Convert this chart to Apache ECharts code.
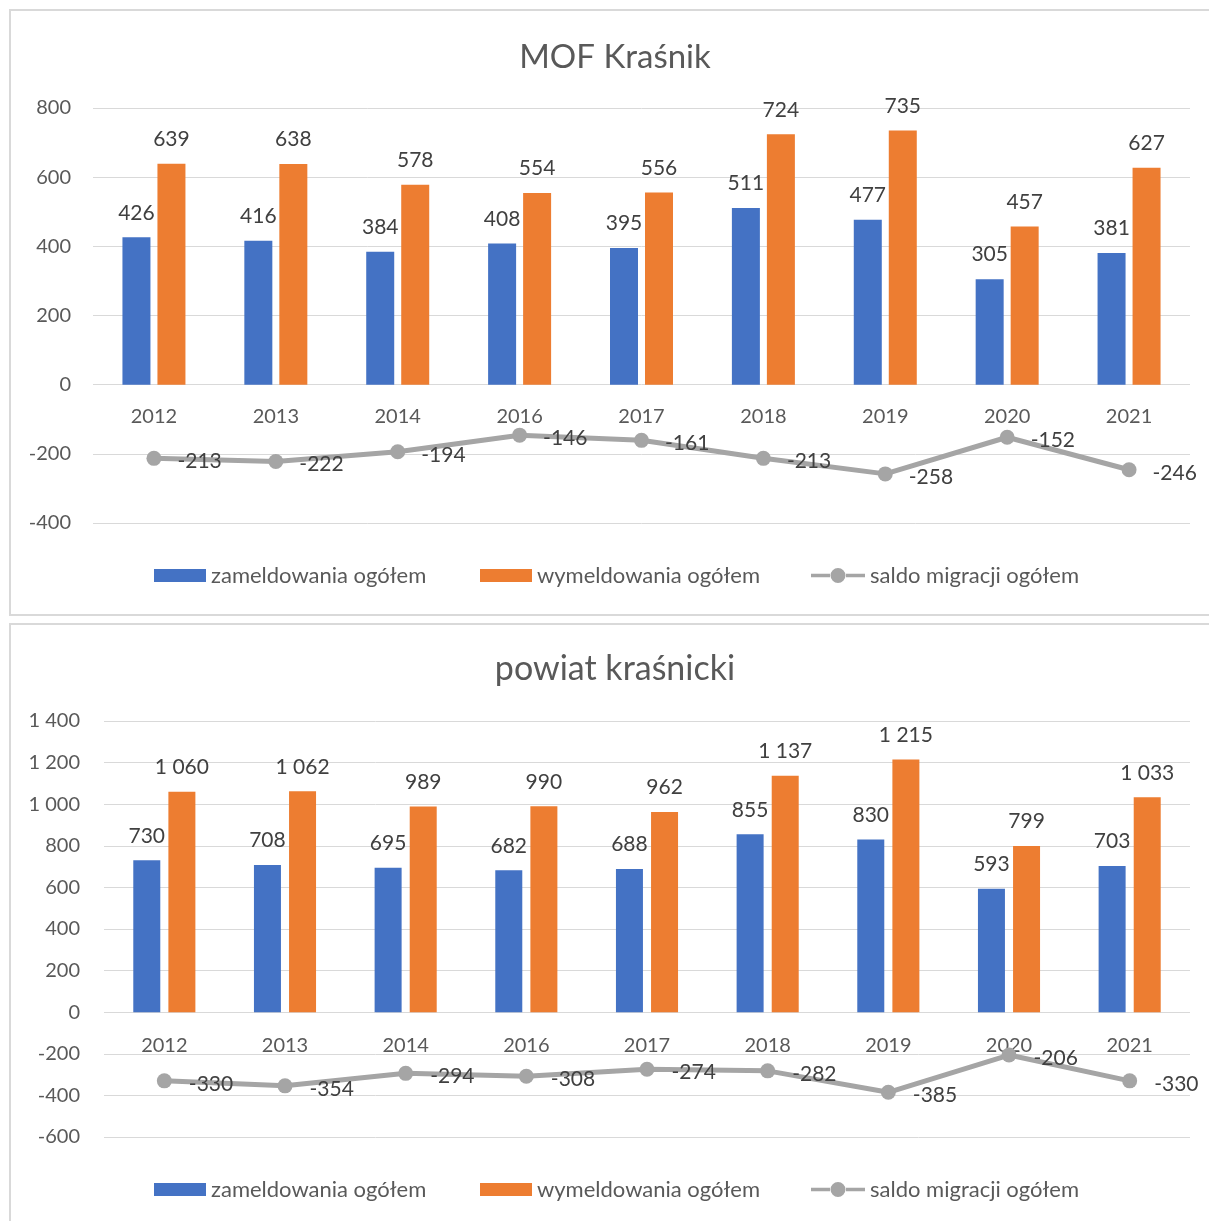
<!DOCTYPE html>
<html>
<head>
<meta charset="utf-8">
<script src="https://cdn.jsdelivr.net/npm/echarts@6/dist/echarts.min.js"></script>
<style>
html,body{margin:0;padding:0;background:#fff;}
#c{width:1209px;height:1221px;}
</style>
</head>
<body>
<div id="c"></div>
<script>
// ---- data ----
const years = ['2012','2013','2014','2016','2017','2018','2019','2020','2021'];
const seriesNames = ['zameldowania ogółem','wymeldowania ogółem','saldo migracji ogółem'];
const titles = ['MOF Kraśnik','powiat kraśnicki'];

const mofZameldowania = [426,416,384,408,395,511,477,305,381];
const mofWymeldowania = [639,638,578,554,556,724,735,457,627];
const mofSaldo = [-213,-222,-194,-146,-161,-213,-258,-152,-246];

const powZameldowania = [730,708,695,682,688,855,830,593,703];
const powWymeldowania = [1060,1062,989,990,962,1137,1215,799,1033];
const powSaldo = [-330,-354,-294,-308,-274,-282,-385,-206,-330];

const mofTicks = {min:-400, max:800, interval:200};
const powTicks = {min:-600, max:1400, interval:200};

// ---- styling ----
const FONT = 'Lato';
const BLUE = '#4472C4', ORANGE = '#ED7D31', GRAY = '#A5A5A5';
const AXIS_TXT = '#595959', LBL_TXT = '#404040', GRID = '#D9D9D9';
const fmt = v => String(v).replace(/\B(?=(\d{3})+(?!\d))/g, ' ');
const LINE_ICON = 'path://M0,6.3H19V9.7H0Z M35,6.3H54V9.7H35Z M19.5,8A7.5,7.5 0 1,1 34.5,8A7.5,7.5 0 1,1 19.5,8Z';

const chart = echarts.init(document.getElementById('c'), null, {renderer:'canvas'});

const layouts = [
  {grid:{left:93, right:19, top:108, height:415}, titleTop:36, titleSize:33, legendMid:575, barWidth:28, barGap:'25%', catMargin:22, yMargin:22, lblDist:16},
  {grid:{left:104, right:19, top:721, height:416}, titleTop:647, titleSize:34, legendMid:1189, barWidth:27, barGap:'30%', catMargin:23, yMargin:24, lblDist:17}
];
const legendLefts = [154, 480, 812];

const data = [
  [mofZameldowania, mofWymeldowania, mofSaldo, mofTicks],
  [powZameldowania, powWymeldowania, powSaldo, powTicks]
];

const option = {
  animation:false,
  textStyle:{fontFamily:FONT},
  title:[], legend:[], grid:[], xAxis:[], yAxis:[], series:[],
  graphic:[
    {type:'rect', shape:{x:10, y:10, width:1210, height:605}, style:{fill:'none', stroke:GRID, lineWidth:2}, silent:true},
    {type:'rect', shape:{x:10, y:624, width:1210, height:620}, style:{fill:'none', stroke:GRID, lineWidth:2}, silent:true}
  ]
};

layouts.forEach((L, i) => {
  const [zam, wym, sal, ticks] = data[i];
  option.title.push({
    text:titles[i], left:610, top:L.titleTop, textAlign:'center',
    textStyle:{fontFamily:FONT, fontSize:L.titleSize, fontWeight:'normal', color:AXIS_TXT}
  });
  seriesNames.forEach((n, k) => {
    const isLine = k === 2;
    const h = isLine ? 16 : 13;
    option.legend.push({
      data:[{name:n, icon: isLine ? LINE_ICON : 'rect'}],
      left:legendLefts[k] + (isLine ? -1 : 0), top:L.legendMid - 6.5 - 4, padding:0,
      itemWidth: isLine ? 54 : 52, itemHeight:h, itemGap:0,
      textStyle:{fontFamily:FONT, fontSize:22, color:AXIS_TXT}
    });
  });
  // main grid
  option.grid.push(L.grid);
  // auxiliary grid whose bottom edge sits on the value 0, to carry category labels
  const zeroFrac = ticks.max / (ticks.max - ticks.min);
  option.grid.push({left:L.grid.left, right:L.grid.right, top:L.grid.top, height:L.grid.height * zeroFrac});
  const gMain = i * 2, gAux = i * 2 + 1;

  option.xAxis.push({
    type:'category', data:years, gridIndex:gMain,
    axisLine:{show:false}, axisTick:{show:false}, axisLabel:{show:false}
  });
  option.xAxis.push({
    type:'category', data:years, gridIndex:gAux, position:'bottom',
    axisLine:{show:false}, axisTick:{show:false}, splitLine:{show:false},
    axisLabel:{fontFamily:FONT, fontSize:20, color:AXIS_TXT, margin:L.catMargin}
  });
  option.yAxis.push({
    type:'value', gridIndex:gMain, min:ticks.min, max:ticks.max, interval:ticks.interval,
    axisLine:{show:false}, axisTick:{show:false},
    splitLine:{lineStyle:{color:GRID, width:1}},
    axisLabel:{fontFamily:FONT, fontSize:20, color:AXIS_TXT, margin:L.yMargin, formatter:fmt}
  });
  option.yAxis.push({
    type:'value', gridIndex:gAux, min:0, max:ticks.max, show:false
  });
  const xi = i * 2, yi = i * 2;
  const barLabel = {show:true, position:'top', distance:14, fontFamily:FONT, fontSize:21, color:LBL_TXT, formatter:p => fmt(p.value)};
  option.series.push({
    name:seriesNames[0], type:'bar', xAxisIndex:xi, yAxisIndex:yi, data:zam,
    barWidth:L.barWidth, barGap:L.barGap, itemStyle:{color:BLUE}, label:barLabel
  });
  option.series.push({
    name:seriesNames[1], type:'bar', xAxisIndex:xi, yAxisIndex:yi, data:wym,
    barWidth:L.barWidth, barGap:L.barGap, itemStyle:{color:ORANGE}, label:barLabel
  });
  option.series.push({
    name:seriesNames[2], type:'line', xAxisIndex:xi, yAxisIndex:yi, data:sal, z:5,
    symbol:'circle', symbolSize:15,
    lineStyle:{color:GRAY, width:5}, itemStyle:{color:GRAY},
    label:{show:true, position:'right', distance:L.lblDist, fontFamily:FONT, fontSize:21, color:LBL_TXT, offset:[0,3]}
  });
});

chart.setOption(option);
</script>
</body>
</html>
